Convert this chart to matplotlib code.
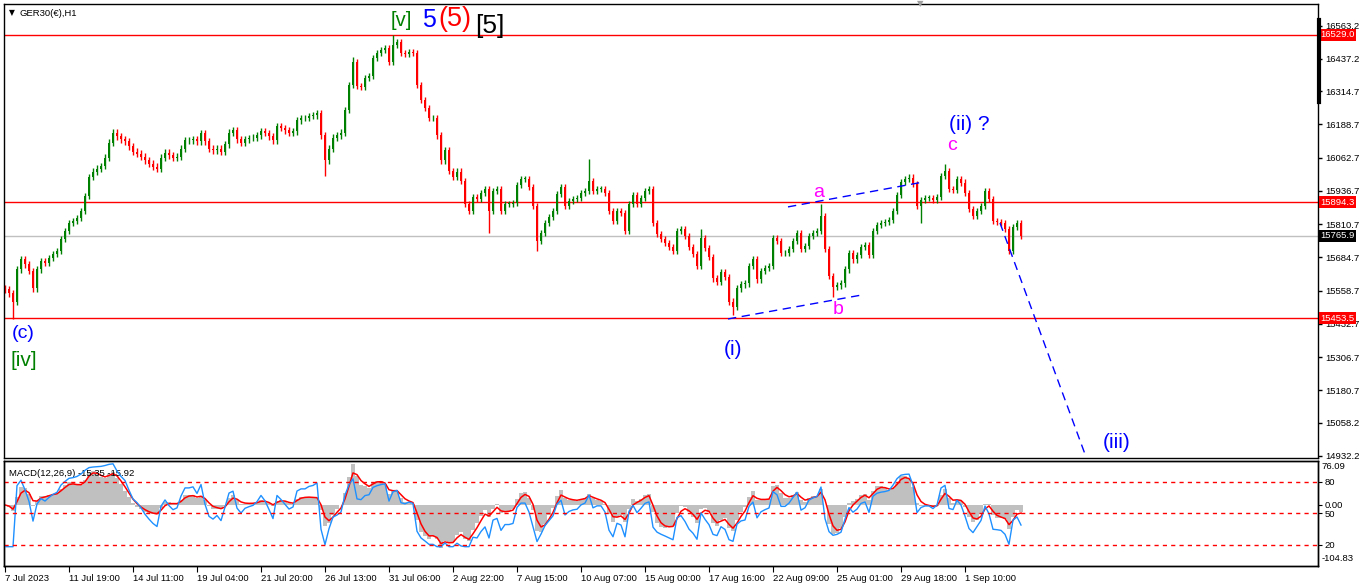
import matplotlib
matplotlib.use("Agg")
import matplotlib.pyplot as plt
from matplotlib.lines import Line2D
import numpy as np
import pandas as pd

# GER30(€) H1, one close every 4 hours (7 Jul 2023 -> 5 Sep 2023)
closes = [
    15563, 15548, 15517, 15639, 15677, 15658, 15632, 15567, 15639, 15670,
    15662, 15681, 15697, 15708, 15754, 15784, 15815, 15822, 15834, 15861,
    15918, 15990, 16010, 16021, 16032, 16063, 16120, 16158, 16143, 16132,
    16124, 16105, 16086, 16078, 16067, 16052, 16040, 16029, 16021, 16063,
    16082, 16071, 16063, 16067, 16097, 16128, 16128, 16132, 16124, 16155,
    16124, 16097, 16090, 16097, 16086, 16113, 16158, 16166, 16132, 16120,
    16132, 16136, 16139, 16147, 16162, 16155, 16143, 16128, 16181, 16174,
    16166, 16158, 16162, 16204, 16212, 16212, 16220, 16223, 16231, 16147,
    16052, 16097, 16139, 16147, 16158, 16243, 16338, 16426, 16334, 16330,
    16365, 16372, 16441, 16460, 16472, 16479, 16426, 16491, 16502, 16460,
    16456, 16464, 16460, 16338, 16281, 16250, 16212, 16212, 16147, 16052,
    16090, 16013, 15990, 16010, 15975, 15887, 15861, 15914, 15907, 15929,
    15945, 15861, 15937, 15945, 15861, 15887, 15887, 15891, 15960, 15983,
    15983, 15952, 15880, 15746, 15777, 15815, 15838, 15861, 15926, 15952,
    15880, 15899, 15907, 15910, 15929, 15937, 15975, 15937, 15945, 15945,
    15929, 15861, 15822, 15861, 15853, 15784, 15887, 15922, 15887, 15910,
    15937, 15945, 15815, 15773, 15754, 15739, 15723, 15708, 15784, 15792,
    15765, 15723, 15697, 15651, 15758, 15720, 15685, 15605, 15593, 15628,
    15609, 15517, 15498, 15567, 15582, 15586, 15651, 15677, 15601, 15632,
    15643, 15651, 15758, 15746, 15700, 15700, 15716, 15746, 15777, 15716,
    15727, 15765, 15777, 15784, 15842, 15716, 15613, 15574, 15578, 15586,
    15639, 15700, 15677, 15693, 15723, 15731, 15693, 15784, 15807, 15815,
    15819, 15826, 15861, 15922, 15971, 15983, 15987, 15964, 15880, 15903,
    15910, 15910, 15903, 15914, 15994, 16013, 15945, 15941, 15983, 15968,
    15929, 15868, 15842, 15861, 15880, 15937, 15907, 15822, 15819, 15815,
    15792, 15708, 15800, 15815, 15766,
]

# wick extremes that stick out of the normal candles
spike_high = {87: 16445, 97: 16527, 146: 16059, 174: 15792, 204: 15887,
              226: 16001, 235: 16040}
spike_low = {2: 15452, 80: 15994, 121: 15777, 133: 15708, 182: 15467,
             207: 15536, 229: 15815, 251: 15697}

date_labels = ["7 Jul 2023", "11 Jul 19:00", "14 Jul 11:00", "19 Jul 04:00",
               "21 Jul 20:00", "26 Jul 13:00", "31 Jul 06:00", "2 Aug 22:00",
               "7 Aug 15:00", "10 Aug 07:00", "15 Aug 00:00", "17 Aug 16:00",
               "22 Aug 09:00", "25 Aug 01:00", "29 Aug 18:00", "1 Sep 10:00"]
date_bars = [16 * j for j in range(len(date_labels))]

price_ticks = [16563.2, 16437.2, 16314.7, 16188.7, 16062.7, 15936.7, 15810.7,
               15684.7, 15558.7, 15432.7, 15306.7, 15180.7, 15058.2, 14932.2]
red_levels = [16529.0, 15894.3, 15453.5]
last_price = 15765.9

# elliott wave labels: text, bar, price, colour, size
wave_labels = [
    ("[v]", 99, 16581, "#008000", 14.5),
    ("5", 106, 16585, "#0000FF", 18),
    ("(5)", 112.5, 16590, "#FF0000", 19.5),
    ("[5]", 121.3, 16562, "black", 19),
    ("(c)", 4.5, 15394, "#0000FF", 14),
    ("[iv]", 4.8, 15295, "#008000", 15),
    ("(i)", 182, 15337, "#0000FF", 15),
    ("a", 203.5, 15929, "#FF00FF", 14),
    ("b", 208.3, 15485, "#FF00FF", 14),
    ("c", 236.8, 16107, "#FF00FF", 14),
    ("(ii) ?", 241, 16187, "#0000FF", 15),
    ("(iii)", 277.8, 14981, "#0000FF", 15),
]
trend_lines = [
    [(180.75, 15451), (214.25, 15542)],
    [(195.75, 15876), (229.5, 15970)],
    [(248.75, 15815), (270.3, 14926)],
]

W, H = 1366, 588
TAIL = 12

closes = np.array(closes, dtype=float)
n = len(closes)
x = np.arange(n)
opens = np.r_[closes[0] + 3, closes[:-1]]
highs = np.maximum(opens, closes) + TAIL
lows = np.minimum(opens, closes) - TAIL
for k, v in spike_high.items():
    highs[k] = v
for k, v in spike_low.items():
    lows[k] = v

# MACD(12,26,9) and an RSI, hourly constants adapted to 4h steps
s = pd.Series(closes)
ema_fast = s.ewm(alpha=1 - (11 / 13) ** 4, adjust=False).mean()
ema_slow = s.ewm(alpha=1 - (25 / 27) ** 4, adjust=False).mean()
macd = ema_fast - ema_slow
signal = macd.ewm(alpha=1 - (8 / 10) ** 4, adjust=False).mean()
delta = s.diff().fillna(0)
gain = delta.clip(lower=0).ewm(alpha=1 / 7, adjust=False).mean()
loss = (-delta.clip(upper=0)).ewm(alpha=1 / 7, adjust=False).mean()
rsi = 100 - 100 / (1 + gain / loss.replace(0, 1e-9))
rsi = rsi.clip(lower=18)

plt.rcParams["font.family"] = ["Liberation Sans", "DejaVu Sans"]
fig = plt.figure(figsize=(W / 100, H / 100), dpi=100)
fig.patch.set_facecolor("white")


def fx(px):
    return px / W


def fy(py):
    return 1 - py / H


ax = fig.add_axes([fx(4), fy(457.5), fx(1314), (457.5 - 4) / H])
ax2 = fig.add_axes([fx(4), fy(565.5), fx(1314), (565.5 - 461) / H])
ax3 = ax2.twinx()

xlim = (-0.25, 328.25)

# candles
up = closes >= opens
cols = np.where(up, "#008000", "#FF0000")
ax.vlines(x, lows, highs, colors=cols, lw=1)
body_h = np.maximum(np.abs(closes - opens), 2)
ax.bar(x, body_h, bottom=np.minimum(opens, closes), width=0.6, color=cols,
       linewidth=0)

for lv in red_levels:
    ax.axhline(lv, color="#FF0000", lw=1, zorder=0)
    ax.text(1.0015, lv, f"{lv:.1f}", transform=ax.get_yaxis_transform(),
            ha="left", va="center", fontsize=6.8, color="white",
            bbox=dict(boxstyle="square,pad=0.15", fc="#FF0000", ec="none"))
ax.axhline(last_price, color="#C0C0C0", lw=1, zorder=0)
ax.text(1.0015, last_price, f"{last_price:.1f}", transform=ax.get_yaxis_transform(),
        ha="left", va="center", fontsize=6.8, color="white",
        bbox=dict(boxstyle="square,pad=0.15", fc="black", ec="none"))

for (x0, y0), (x1, y1) in trend_lines:
    ax.plot([x0, x1], [y0, y1], color="#0000FF", lw=1, ls=(0, (6, 4)))

for txt, bx, py, c, sz in wave_labels:
    ax.text(bx, py, txt, color=c, fontsize=sz, ha="center", va="center")

ax.set_xlim(*xlim)
ax.set_ylim(14925.6, 16645.4)
ax.set_xticks([])
ax.yaxis.tick_right()
ax.set_yticks(price_ticks)
ax.set_yticklabels([f"{p:.1f}" for p in price_ticks])
ax.tick_params(axis="y", direction="out", length=3, width=1, pad=2,
               labelsize=6.8)
for sp in ax.spines.values():
    sp.set_color("black")
    sp.set_linewidth(1)

# MACD window
ax2.bar(x, macd, width=1.0, color="#C0C0C0", linewidth=0)
ax2.plot(x, signal, color="#FF0000", lw=1.1)
ax2.set_xlim(*xlim)
ax2.set_ylim(-104.83, 76.09)
ax2.yaxis.tick_right()
ax2.set_yticks([0])
ax2.set_yticklabels(["0.00"])
ax2.tick_params(axis="y", direction="out", length=3, pad=2, labelsize=6.8,
                left=False, labelleft=False, right=True, labelright=True)
ax2.text(1.003, 0.99, "76.09", transform=ax2.transAxes, ha="left", va="top",
         fontsize=6.8)
ax2.text(1.003, 0.02, "-104.83", transform=ax2.transAxes, ha="left",
         va="bottom", fontsize=6.8)
ax2.set_xticks(date_bars)
ax2.set_xticklabels(date_labels, ha="left")
ax2.tick_params(axis="x", direction="out", length=4, pad=2, labelsize=6.8)

ax3.plot(x, rsi, color="#1E90FF", lw=1)
for lv in (80, 50, 20):
    ax3.axhline(lv, color="#FF0000", lw=1, ls=(0, (3, 3)))
ax3.set_ylim(0, 100)
ax3.set_xlim(*xlim)
ax3.set_yticks([80, 50, 20])
ax3.set_yticklabels(["80", "50", "20"])
ax3.tick_params(axis="y", direction="out", length=3, pad=2, labelsize=6.8)
for a in (ax2, ax3):
    for sp in a.spines.values():
        sp.set_color("black")
        sp.set_linewidth(1)

ax2.text(0.004, 0.88, "MACD(12,26,9) -15.35 -15.92", transform=ax2.transAxes,
         ha="left", va="center", fontsize=6.8)

# header and chart furniture
fig.text(fx(9), fy(13), "\u25bc", fontsize=5.5, ha="left", va="center",
         family="DejaVu Sans")
fig.text(fx(20), fy(13), "GER30(€),H1", fontsize=6.8, ha="left", va="center")
fig.text(fx(920), fy(4), "\u25bc", fontsize=6, ha="center", va="center",
         color="#A0A0A0", family="DejaVu Sans")
fig.add_artist(Line2D([fx(1318.5), fx(1318.5)], [fy(20), fy(102)],
                      transform=fig.transFigure, color="black", lw=3))

fig.savefig("out.png", dpi=100)
